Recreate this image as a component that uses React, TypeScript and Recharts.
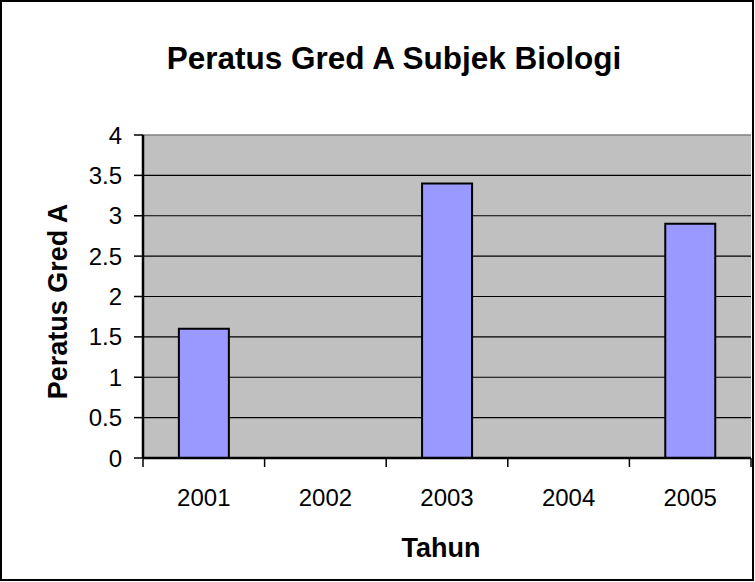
import React from 'react';
import { BarChart, Bar, XAxis, YAxis, CartesianGrid, ReferenceLine, Label } from 'recharts';

const years = ['2001', '2002', '2003', '2004', '2005'];
const percentA: (number | null)[] = [1.6, null, 3.4, null, 2.9];
const yTicks = [0, 0.5, 1, 1.5, 2, 2.5, 3, 3.5, 4];
const gridValues = [0.5, 1, 1.5, 2, 2.5, 3, 3.5];
const chartTitle = 'Peratus Gred A Subjek Biologi';
const xTitle = 'Tahun';
const yTitle = 'Peratus Gred A';

const data = years.map((y, i) => ({ year: y, value: percentA[i] }));

const FONT = '"Liberation Sans", Arial, Helvetica, sans-serif';

const XTick = (props: any) => {
  const { x, y, payload, index, width, visibleTicksCount } = props;
  const half = payload && typeof payload.offset === 'number' && payload.offset > 0
    ? payload.offset
    : width / (2 * (visibleTicksCount || years.length));
  const last = index === years.length - 1;
  return (
    <g>
      <line x1={x - half} x2={x - half} y1={y} y2={y + 9} stroke="#000" strokeWidth={1.5} />
      {last && <line x1={x + half} x2={x + half} y1={y} y2={y + 9} stroke="#000" strokeWidth={1.5} />}
      <text x={x} y={y + 48} textAnchor="middle" fontSize={24} fontFamily={FONT} fill="#000">
        {payload.value}
      </text>
    </g>
  );
};

const YTick = (props: any) => {
  const { x, y, payload } = props;
  return (
    <g>
      <line x1={x - 9} x2={x} y1={y} y2={y} stroke="#000" strokeWidth={1.5} />
      <text x={x - 21} y={y + 8.5} textAnchor="end" fontSize={24} fontFamily={FONT} fill="#000">
        {payload.value}
      </text>
    </g>
  );
};

const YLabel = (props: any) => {
  const vb = props.viewBox || { x: 0, y: 135, width: 143, height: 323 };
  const cx = vb.x + 67;
  const cy = vb.y + vb.height / 2 + 5;
  return (
    <text x={cx} y={cy} transform={`rotate(-90, ${cx}, ${cy})`} textAnchor="middle"
      fontSize={27} fontWeight="bold" fontFamily={FONT} fill="#000">
      {yTitle}
    </text>
  );
};

const XLabel = (props: any) => {
  const vb = props.viewBox || { x: 143, y: 458, width: 608, height: 0 };
  const cx = vb.x + vb.width / 2 - 6;
  const cy = vb.y + 99;
  return (
    <text x={cx} y={cy} textAnchor="middle" fontSize={27} fontWeight="bold" fontFamily={FONT} fill="#000">
      {xTitle}
    </text>
  );
};

export default function App() {
  return (
    <div style={{ position: 'absolute', left: 0, top: 0, width: 755, height: 582, background: '#fff' }}>
      <BarChart
        width={755}
        height={582}
        data={data}
        margin={{ top: 135, right: 4, bottom: 24, left: 0 }}
        barCategoryGap="29.5%"
      >
        <CartesianGrid
          vertical={false}
          horizontalValues={gridValues}
          stroke="#000"
          strokeWidth={1.2}
          fill="#C0C0C0"
          fillOpacity={1}
        />
        <ReferenceLine y={4} stroke="#808080" strokeWidth={1.5} />
        <XAxis
          dataKey="year"
          height={100}
          tickSize={0}
          tickMargin={0}
          tickLine={false}
          interval={0}
          stroke="#000"
          axisLine={{ stroke: '#000', strokeWidth: 2.5 }}
          tick={<XTick />}
        >
          <Label content={<XLabel />} />
        </XAxis>
        <YAxis
          width={143}
          domain={[0, 4]}
          ticks={yTicks}
          interval={0}
          tickSize={0}
          tickMargin={0}
          tickLine={false}
          stroke="#000"
          axisLine={{ stroke: '#000', strokeWidth: 2.5 }}
          tick={<YTick />}
        >
          <Label content={<YLabel />} />
        </YAxis>
        <YAxis
          yAxisId="right"
          orientation="right"
          width={0}
          domain={[0, 4]}
          tick={false}
          tickLine={false}
          stroke="#808080"
          axisLine={{ stroke: '#808080', strokeWidth: 1.5 }}
        />
        <Bar dataKey="value" fill="#9999FF" stroke="#000" strokeWidth={2} isAnimationActive={false} />
      </BarChart>
      <svg width={755} height={582} style={{ position: 'absolute', left: 0, top: 0, pointerEvents: 'none' }}>
        <rect x={1} y={1} width={752} height={579} fill="none" stroke="#000" strokeWidth={2} />
        <text x={394} y={69} textAnchor="middle" fontSize={31.5} fontWeight="bold" fontFamily={FONT} fill="#000">
          {chartTitle}
        </text>
      </svg>
    </div>
  );
}
